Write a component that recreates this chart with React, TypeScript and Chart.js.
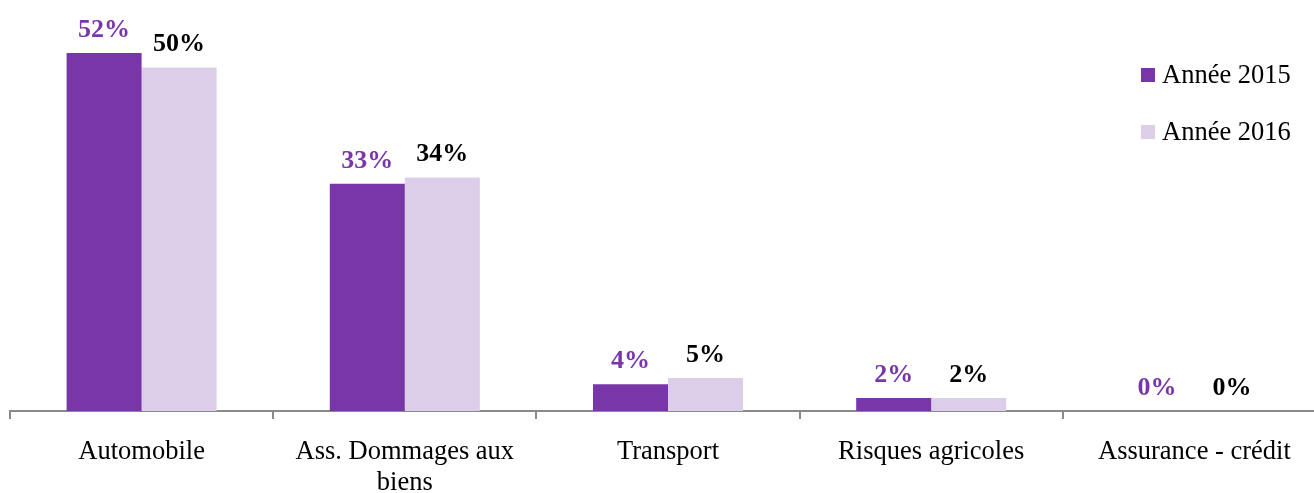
import React, { useEffect, useRef } from "react";
import { Chart, registerables } from "chart.js";

Chart.register(...registerables);

const categories: (string | string[])[] = [
  "Automobile",
  ["Ass. Dommages aux", "biens"],
  "Transport",
  "Risques agricoles",
  "Assurance - crédit",
];
const seriesNames = ["Année 2015", "Année 2016"];
const values2015 = [52, 33, 3.9, 1.9, 0];
const values2016 = [49.9, 33.9, 4.8, 1.9, 0];
const valueLabels2015 = ["52%", "33%", "4%", "2%", "0%"];
const valueLabels2016 = ["50%", "34%", "5%", "2%", "0%"];

const PURPLE = "#7836A8";
const LILAC = "#DCCEE8";
const FONT = "'Liberation Serif', 'Times New Roman', serif";

const valueLabelPlugin = {
  id: "valueLabels",
  afterDatasetsDraw(chart: any) {
    const ctx = chart.ctx;
    const sets = [
      { labels: valueLabels2015, color: PURPLE },
      { labels: valueLabels2016, color: "#000000" },
    ];
    ctx.save();
    ctx.font = `bold 26px ${FONT}`;
    ctx.textAlign = "center";
    ctx.textBaseline = "middle";
    sets.forEach((s, di) => {
      const meta = chart.getDatasetMeta(di);
      meta.data.forEach((el: any, i: number) => {
        ctx.fillStyle = s.color;
        ctx.fillText(s.labels[i], el.x, el.y - 23);
      });
    });
    ctx.restore();
  },
};

const legendPlugin = {
  id: "customLegend",
  afterDraw(chart: any) {
    const ctx = chart.ctx;
    const colors = [PURPLE, LILAC];
    ctx.save();
    ctx.font = `26.5px ${FONT}`;
    ctx.textAlign = "left";
    ctx.textBaseline = "middle";
    seriesNames.forEach((name, i) => {
      const cy = 75 + i * 57;
      ctx.fillStyle = colors[i];
      ctx.fillRect(1141, cy - 7, 14, 14);
      ctx.fillStyle = "#000000";
      ctx.fillText(name, 1162, cy + 1);
    });
    ctx.restore();
  },
};

export default function App() {
  const ref = useRef<HTMLCanvasElement | null>(null);

  useEffect(() => {
    if (!ref.current) return;
    const chart = new Chart(ref.current, {
      type: "bar",
      data: {
        labels: categories as any,
        datasets: [
          {
            label: seriesNames[0],
            data: values2015,
            backgroundColor: PURPLE,
            borderWidth: 0,
            barPercentage: 1,
            categoryPercentage: 0.57,
          },
          {
            label: seriesNames[1],
            data: values2016,
            backgroundColor: LILAC,
            borderWidth: 0,
            barPercentage: 1,
            categoryPercentage: 0.57,
          },
        ],
      },
      options: {
        responsive: false,
        animation: false,
        layout: { padding: { left: 10, right: 4, top: 0, bottom: 0 } },
        plugins: {
          legend: { display: false },
          tooltip: { enabled: false },
        },
        scales: {
          x: {
            grid: {
              offset: true,
              drawOnChartArea: false,
              drawTicks: true,
              tickLength: 8,
              color: "#898989",
              lineWidth: 2,
            },
            border: { display: true, color: "#898989", width: 2 },
            ticks: {
              color: "#000000",
              font: { family: FONT, size: 26.5, lineHeight: 1.15 },
              padding: 18,
              maxRotation: 0,
              minRotation: 0,
              autoSkip: false,
            },
            afterFit: (scale: any) => {
              scale.height = 82;
            },
          },
          y: {
            display: false,
            min: 0,
            max: 59.7,
          },
        },
      },
      plugins: [valueLabelPlugin, legendPlugin],
    });
    return () => chart.destroy();
  }, []);

  return (
    <div
      style={{
        position: "fixed",
        left: 0,
        top: 0,
        width: 1314,
        height: 493,
        overflow: "hidden",
        background: "#ffffff",
      }}
    >
      <canvas ref={ref} width={1330} height={493} style={{ width: 1330, height: 493, display: "block" }} />
    </div>
  );
}
